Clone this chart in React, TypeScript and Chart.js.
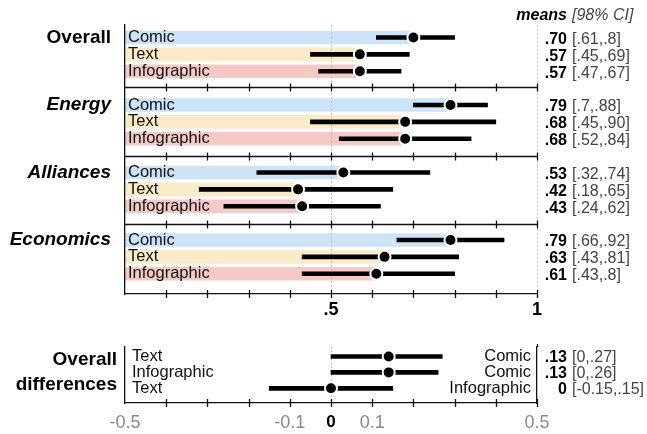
import React, { useEffect, useRef } from 'react';
import { Chart, registerables } from 'chart.js';

Chart.register(...registerables);

const FONT = '"Liberation Sans", Arial, Helvetica, sans-serif';

// ---------------- data ----------------
const panelNames = ['Overall', 'Energy', 'Alliances', 'Economics'];
const conditions = ['Comic', 'Text', 'Infographic'];

const overallMeans = [0.70, 0.57, 0.57];
const overallLow = [0.61, 0.45, 0.47];
const overallHigh = [0.80, 0.69, 0.67];
const overallMeanText = ['.70', '.57', '.57'];
const overallCiText = ['[.61,.8]', '[.45,.69]', '[.47,.67]'];

const energyMeans = [0.79, 0.68, 0.68];
const energyLow = [0.70, 0.45, 0.52];
const energyHigh = [0.88, 0.90, 0.84];
const energyMeanText = ['.79', '.68', '.68'];
const energyCiText = ['[.7,.88]', '[.45,.90]', '[.52,.84]'];

const alliancesMeans = [0.53, 0.42, 0.43];
const alliancesLow = [0.32, 0.18, 0.24];
const alliancesHigh = [0.74, 0.65, 0.62];
const alliancesMeanText = ['.53', '.42', '.43'];
const alliancesCiText = ['[.32,.74]', '[.18,.65]', '[.24,.62]'];

const economicsMeans = [0.79, 0.63, 0.61];
const economicsLow = [0.66, 0.43, 0.43];
const economicsHigh = [0.92, 0.81, 0.80];
const economicsMeanText = ['.79', '.63', '.61'];
const economicsCiText = ['[.66,.92]', '[.43,.81]', '[.43,.8]'];

const diffLeftLabels = ['Text', 'Infographic', 'Text'];
const diffRightLabels = ['Comic', 'Comic', 'Infographic'];
const diffMeans = [0.14, 0.14, 0];
const diffLow = [0, 0, -0.15];
const diffHigh = [0.27, 0.26, 0.15];
const diffMeanText = ['.13', '.13', '0'];
const diffCiText = ['[0,.27]', '[0,.26]', '[-0.15,.15]'];

const topTickValues = [0, 0.1, 0.2, 0.3, 0.4, 0.5, 0.6, 0.7, 0.8, 0.9, 1];
const topTickLabels = ['', '', '', '', '', '.5', '', '', '', '', '1'];
const diffTickValues = [-0.5, -0.4, -0.3, -0.2, -0.1, 0, 0.1, 0.2, 0.3, 0.4, 0.5];
const diffTickLabels = ['-0.5', '', '', '', '-0.1', '0', '0.1', '', '', '', '0.5'];

// ---------------- styles / layout ----------------
const conditionColors = ['#cde3f7', '#fcebc9', '#f5c9c5'];
const PANEL_STRIDE = 4;
const TOP_Y_MIN = -0.74;
const TOP_Y_MAX = 15.2;
const PANEL_BREAKS = [2.95, 7, 11.05];
const DIFF_Y_MIN = -0.6;
const DIFF_Y_MAX = 2.92;
const MEAN_RIGHT_X = 567;
const CI_LEFT_X = 572;

const allMeans = [overallMeans, energyMeans, alliancesMeans, economicsMeans];
const allLow = [overallLow, energyLow, alliancesLow, economicsLow];
const allHigh = [overallHigh, energyHigh, alliancesHigh, economicsHigh];
const allMeanText = [overallMeanText, energyMeanText, alliancesMeanText, economicsMeanText];
const allCiText = [overallCiText, energyCiText, alliancesCiText, economicsCiText];

function crossTicks(ctx: CanvasRenderingContext2D, xs: any, py: number, values: number[]) {
  for (const v of values) {
    const px = Math.round(xs.getPixelForValue(v)) + 0.5;
    ctx.moveTo(px, py - 4);
    ctx.lineTo(px, py + 4);
  }
}

function dotted(ctx: CanvasRenderingContext2D, px: number, top: number, bottom: number) {
  ctx.save();
  ctx.strokeStyle = '#b4b4b4';
  ctx.lineWidth = 1;
  ctx.setLineDash([1.5, 2.5]);
  ctx.beginPath();
  ctx.moveTo(px, top);
  ctx.lineTo(px, bottom);
  ctx.stroke();
  ctx.restore();
}

function annot(ctx: CanvasRenderingContext2D, y: number, mean: string, ci: string) {
  ctx.textBaseline = 'middle';
  ctx.font = `bold 16px ${FONT}`;
  ctx.fillStyle = '#000';
  ctx.textAlign = 'right';
  ctx.fillText(mean, MEAN_RIGHT_X, y);
  ctx.font = `16px ${FONT}`;
  ctx.fillStyle = '#444';
  ctx.textAlign = 'left';
  ctx.fillText(ci, CI_LEFT_X, y);
}

const topPlugin = {
  id: 'topDecor',
  afterDatasetDraw(chart: any, args: any) {
    if (args.index !== 2) return;
    const { ctx, chartArea: a, scales } = chart;
    for (const v of [0.5, 1]) {
      const px = Math.round(scales.x.getPixelForValue(v)) + 0.5;
      dotted(ctx, px, a.top, a.bottom);
    }
  },
  afterDraw(chart: any) {
    const { ctx, chartArea: a, scales } = chart;
    const xs = scales.x;
    const ys = scales.y;
    ctx.save();
    ctx.strokeStyle = '#111';
    ctx.lineWidth = 1.3;
    ctx.beginPath();
    for (const b of PANEL_BREAKS) {
      const py = Math.round(ys.getPixelForValue(b)) + 0.5;
      ctx.moveTo(a.left, py);
      ctx.lineTo(a.right, py);
      crossTicks(ctx, xs, py, topTickValues.slice(1));
    }
    crossTicks(ctx, xs, a.bottom, topTickValues.slice(1));
    ctx.stroke();

    // panel titles
    panelNames.forEach((name, p) => {
      const py = ys.getPixelForValue(p * PANEL_STRIDE);
      ctx.font = `${p === 0 ? '' : 'italic '}bold 19px ${FONT}`;
      ctx.fillStyle = '#000';
      ctx.textAlign = 'right';
      ctx.textBaseline = 'middle';
      ctx.fillText(name, 111, py);
    });

    // header
    ctx.textBaseline = 'middle';
    ctx.font = `italic bold 16px ${FONT}`;
    ctx.fillStyle = '#000';
    ctx.textAlign = 'right';
    ctx.fillText('means', MEAN_RIGHT_X, 16);
    ctx.font = `italic 16px ${FONT}`;
    ctx.fillStyle = '#444';
    ctx.textAlign = 'left';
    ctx.fillText('[98% CI]', CI_LEFT_X, 16);

    // annotations
    allMeanText.forEach((arr, p) => {
      arr.forEach((m, r) => {
        const py = ys.getPixelForValue(p * PANEL_STRIDE + r) + 2;
        annot(ctx, py, m, allCiText[p][r]);
      });
    });
    ctx.restore();
  },
};

const diffPlugin = {
  id: 'diffDecor',
  beforeDatasetsDraw(chart: any) {
    const { ctx, chartArea: a, scales } = chart;
    const px = Math.round(scales.x.getPixelForValue(0)) + 0.5;
    dotted(ctx, px, a.top, a.bottom);
  },
  afterDraw(chart: any) {
    const { ctx, chartArea: a, scales } = chart;
    const xs = scales.x;
    const ys = scales.y;
    ctx.save();
    ctx.strokeStyle = '#111';
    ctx.lineWidth = 1.3;
    ctx.beginPath();
    crossTicks(ctx, xs, a.bottom, diffTickValues.slice(1));
    const rx = Math.round(xs.getPixelForValue(0.5)) + 0.5;
    ctx.moveTo(rx, a.top - 3);
    ctx.lineTo(rx, a.top);
    ctx.stroke();

    // right-hand row labels (comparison targets)
    ctx.font = `16.5px ${FONT}`;
    ctx.fillStyle = '#111';
    ctx.textAlign = 'right';
    ctx.textBaseline = 'middle';
    diffRightLabels.forEach((label, r) => {
      ctx.fillText(label, a.right - 6, ys.getPixelForValue(r));
    });

    const mid = ys.getPixelForValue(1);
    ctx.font = `bold 19px ${FONT}`;
    ctx.fillStyle = '#000';
    ctx.textAlign = 'right';
    ctx.textBaseline = 'middle';
    ctx.fillText('Overall', 117, mid - 12.5);
    ctx.fillText('differences', 117, mid + 12.5);

    diffMeanText.forEach((m, r) => {
      annot(ctx, ys.getPixelForValue(r) + 1, m, diffCiText[r]);
    });
    ctx.restore();
  },
};

function rowAxis(min: number, max: number, position: string, rows: number[], labels: (i: number) => string, padding: number, showLabels: boolean) {
  return {
    type: 'linear',
    position,
    reverse: true,
    offset: false,
    min,
    max,
    afterBuildTicks: (s: any) => {
      s.ticks = rows.map((v) => ({ value: v }));
    },
    afterFit: (s: any) => {
      s.width = 0;
    },
    grid: { display: false, drawTicks: false },
    border: { display: true, color: '#111', width: 1.3, z: 1 },
    ticks: {
      display: showLabels,
      z: 1,
      autoSkip: false,
      mirror: true,
      padding,
      color: '#111',
      font: { family: FONT, size: 16.5 },
      callback: (_v: any, i: number) => labels(i),
    },
  };
}

function TopChart() {
  const ref = useRef<HTMLCanvasElement | null>(null);
  useEffect(() => {
    if (!ref.current) return;
    const rowsY: number[] = [];
    const bandData: any[] = [];
    const ciData: any[] = [];
    const dotData: any[] = [];
    const bandColors: string[] = [];
    allMeans.forEach((means, p) => {
      means.forEach((m, r) => {
        const y = p * PANEL_STRIDE + r;
        rowsY.push(y);
        bandData.push({ x: [0, m], y });
        ciData.push({ x: [allLow[p][r], allHigh[p][r]], y });
        dotData.push({ x: m, y });
        bandColors.push(conditionColors[r]);
      });
    });
    const chart = new Chart(ref.current, {
      type: 'bar',
      data: {
        datasets: [
          {
            type: 'line',
            data: dotData,
            showLine: false,
            pointRadius: 6,
            pointHoverRadius: 6,
            pointBackgroundColor: '#000',
            pointBorderColor: '#fff',
            pointBorderWidth: 2,
            pointHoverBorderWidth: 2,
            yAxisID: 'y',
            order: 0,
          } as any,
          {
            type: 'bar',
            data: ciData,
            backgroundColor: '#000',
            barThickness: 4,
            grouped: false,
            yAxisID: 'y',
            order: 1,
          } as any,
          {
            type: 'bar',
            data: bandData,
            backgroundColor: bandColors,
            barThickness: 13,
            grouped: false,
            yAxisID: 'y',
            order: 2,
          } as any,
        ],
      },
      options: {
        indexAxis: 'y',
        animation: false,
        responsive: false,
        maintainAspectRatio: false,
        events: [],
        layout: { padding: { left: 125, right: 110, top: 25, bottom: 12 } },
        plugins: { legend: { display: false }, tooltip: { enabled: false } },
        scales: {
          x: {
            type: 'linear',
            position: 'bottom',
            min: 0,
            max: 1,
            afterBuildTicks: (s: any) => {
              s.ticks = topTickValues.map((v) => ({ value: v }));
            },
            afterFit: (s: any) => {
              s.height = 24;
            },
            grid: { display: false, drawTicks: false },
            border: { display: true, color: '#111', width: 1.3 },
            ticks: {
              autoSkip: false,
              maxRotation: 0,
              padding: 5,
              color: '#000',
              font: { family: FONT, size: 18, weight: 'bold' },
              callback: (_v: any, i: number) => topTickLabels[i],
            },
          },
          y: rowAxis(TOP_Y_MIN, TOP_Y_MAX, 'left', rowsY, (i) => conditions[i % conditions.length], 3, true),
        },
      } as any,
      plugins: [topPlugin],
    });
    return () => chart.destroy();
  }, []);
  return (
    <canvas
      ref={ref}
      width={647}
      height={330}
      style={{ position: 'absolute', left: 0, top: 0, width: 647, height: 330 }}
    />
  );
}

function DiffChart() {
  const ref = useRef<HTMLCanvasElement | null>(null);
  useEffect(() => {
    if (!ref.current) return;
    const rows = diffMeans.map((_, r) => r);
    const ciData = diffMeans.map((_, r) => ({ x: [diffLow[r], diffHigh[r]], y: r }));
    const dotData = diffMeans.map((m, r) => ({ x: m, y: r }));
    const chart = new Chart(ref.current, {
      type: 'bar',
      data: {
        datasets: [
          {
            type: 'line',
            data: dotData,
            showLine: false,
            pointRadius: 6,
            pointHoverRadius: 6,
            pointBackgroundColor: '#000',
            pointBorderColor: '#fff',
            pointBorderWidth: 2,
            pointHoverBorderWidth: 2,
            yAxisID: 'y',
            order: 0,
          } as any,
          {
            type: 'bar',
            data: ciData,
            backgroundColor: '#000',
            barThickness: 4,
            grouped: false,
            yAxisID: 'y',
            order: 1,
          } as any,
        ],
      },
      options: {
        indexAxis: 'y',
        animation: false,
        responsive: false,
        maintainAspectRatio: false,
        events: [],
        layout: { padding: { left: 125, right: 110, top: 13, bottom: 6 } },
        plugins: { legend: { display: false }, tooltip: { enabled: false } },
        scales: {
          x: {
            type: 'linear',
            position: 'bottom',
            min: -0.5,
            max: 0.5,
            afterBuildTicks: (s: any) => {
              s.ticks = diffTickValues.map((v) => ({ value: v }));
            },
            afterFit: (s: any) => {
              s.height = 25;
            },
            grid: { display: false, drawTicks: false },
            border: { display: true, color: '#111', width: 1.3 },
            ticks: {
              autoSkip: false,
              maxRotation: 0,
              padding: 9,
              color: (c: any) => (c.tick && c.tick.value === 0 ? '#000' : '#8a8a8a'),
              font: (c: any) =>
                c.tick && c.tick.value === 0
                  ? { family: FONT, size: 17, weight: 'bold' }
                  : { family: FONT, size: 18, weight: 'normal' },
              callback: (_v: any, i: number) => diffTickLabels[i],
            },
          },
          y: rowAxis(DIFF_Y_MIN, DIFF_Y_MAX, 'left', rows, (i) => diffLeftLabels[i], 7, true),
          y2: rowAxis(DIFF_Y_MIN, DIFF_Y_MAX, 'right', rows, (i) => diffRightLabels[i], 6, false),
        },
      } as any,
      plugins: [diffPlugin],
    });
    return () => chart.destroy();
  }, []);
  return (
    <canvas
      ref={ref}
      width={647}
      height={104}
      style={{ position: 'absolute', left: 0, top: 330, width: 647, height: 104 }}
    />
  );
}

export default function App() {
  return (
    <div
      style={{
        position: 'fixed',
        left: 0,
        top: 0,
        width: 647,
        height: 434,
        background: '#fff',
        overflow: 'hidden',
      }}
    >
      <TopChart />
      <DiffChart />
    </div>
  );
}
